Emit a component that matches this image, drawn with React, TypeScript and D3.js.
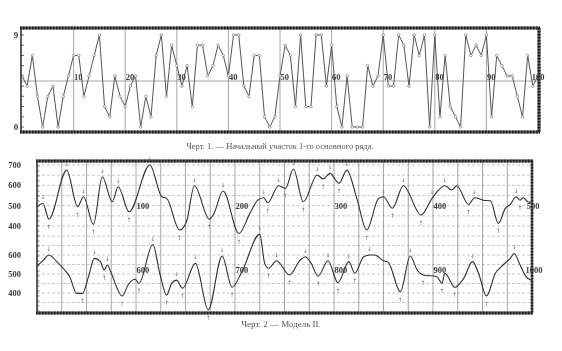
import React from 'react';
import * as d3 from 'd3';

// Chart 1: first 101 terms of the basic series (digits 0..9)
const series1: number[] = [
  5, 4, 7, 3, 0, 3, 4, 0, 3, 5, 7, 7, 3, 5, 7, 9, 2, 1, 5, 3,
  2, 4, 5, 0, 3, 1, 7, 9, 3, 8, 6, 4, 6, 2, 8, 8, 5, 6, 8, 7,
  5, 9, 9, 4, 3, 7, 7, 1, 0, 1, 5, 8, 7, 2, 9, 2, 2, 9, 9, 4,
  8, 2, 0, 5, 0, 0, 0, 6, 4, 5, 9, 4, 4, 9, 8, 4, 9, 7, 9, 0,
  9, 1, 7, 2, 1, 0, 9, 7, 8, 7, 9, 1, 7, 6, 5, 5, 3, 1, 7, 4, 5
];
const xTicks1 = [10, 20, 30, 40, 50, 60, 70, 80, 90, 100];

// Chart 2: Model II, terms 0..500 (upper strip) — [term, value, mark]
// mark: 1 = arrow above a peak, -1 = arrow below a trough
const upper2: [number, number, number][] = [
  [0, 495, 0], [6, 511, 1], [12, 434, -1], [30, 675, 1], [41, 495, -1],
  [47, 544, 1], [57, 408, -1], [66, 642, 1], [76, 519, 0], [82, 593, 1],
  [93, 470, -1], [114, 700, 1], [126, 544, 0], [131, 536, 0], [144, 380, -1],
  [151, 421, 0], [159, 598, 1], [174, 434, -1], [178, 454, 0], [188, 572, 1],
  [204, 363, -1], [215, 462, 0], [223, 527, 0], [229, 539, 1], [233, 514, -1],
  [244, 598, 1], [251, 585, -1], [259, 680, 1], [269, 519, -1], [283, 651, 1],
  [289, 631, -1], [296, 659, 1], [305, 610, -1], [313, 675, 1], [323, 536, 0],
  [333, 380, -1], [345, 536, 0], [350, 544, 1], [359, 487, -1], [370, 598, 1],
  [388, 454, -1], [399, 536, 1], [412, 598, 1], [419, 577, 0], [424, 598, 0],
  [436, 506, -1], [442, 539, 1], [451, 527, 0], [458, 524, 0], [466, 413, -1],
  [473, 487, 0], [478, 506, 0], [484, 544, 1], [488, 527, -1], [491, 539, 0],
  [496, 519, 0], [500, 515, 0]
];

// Chart 2: terms 500..1000 (lower strip)
const lower2: [number, number, number][] = [
  [500, 542, 0], [506, 570, 0], [512, 600, 1], [520, 565, 0], [528, 521, 0],
  [533, 486, 0], [540, 398, 0], [546, 398, -1], [552, 486, 0], [558, 582, 1],
  [564, 565, 0], [568, 521, -1], [571, 547, 1], [575, 504, 0], [586, 384, -1],
  [592, 442, 0], [599, 472, 0], [603, 451, -1], [617, 655, 1], [624, 504, 0],
  [631, 389, -1], [636, 451, 0], [641, 468, 1], [647, 425, -1], [660, 556, 1],
  [673, 311, -1], [687, 595, 1], [697, 430, -1], [707, 512, 0], [725, 710, 1],
  [730, 556, 0], [734, 530, -1], [742, 570, 1], [755, 495, -1], [766, 574, 0],
  [771, 591, 1], [776, 565, 0], [784, 489, -1], [794, 570, 1], [804, 454, -1],
  [815, 565, 1], [821, 504, -1], [830, 591, 0], [836, 600, 1], [841, 600, 0],
  [850, 570, 0], [855, 560, 0], [867, 407, -1], [877, 595, 1], [884, 521, 0],
  [890, 495, -1], [904, 486, 0], [909, 451, -1], [912, 504, 0], [922, 430, -1],
  [931, 477, 0], [940, 565, 1], [946, 504, 0], [954, 384, -1], [963, 504, 0],
  [969, 539, 0], [978, 582, 0], [982, 608, 1], [988, 547, 0], [994, 486, 0],
  [1000, 465, 0]
];
const upperLabels = [100, 200, 300, 400, 500];
const lowerLabels = [600, 700, 800, 900, 1000];
const yTicksUpper = [700, 600, 500, 400];
const yTicksLower = [600, 500, 400];

const caption1 = 'Черт. 1. — Начальный участок 1-го основного ряда.';
const caption2 = 'Черт. 2 — Модель II.';

const ink = '#3a3a3a';
const grid = '#8f8f8f';
const serif = '"Liberation Serif", "DejaVu Serif", serif';

const Border: React.FC<{ x1: number; y1: number; x2: number; y2: number; w?: number }> = ({ x1, y1, x2, y2, w = 3 }) => (
  <g>
    <line x1={x1} y1={y1} x2={x2} y2={y2} stroke="#555" strokeWidth={w} />
    <line x1={x1} y1={y1} x2={x2} y2={y2} stroke="#222" strokeWidth={w} strokeDasharray="1.5 1.5" />
  </g>
);

const App: React.FC = () => {
  // ---- chart 1 ----
  const f1 = { left: 21, right: 539, top: 28, bottom: 132 };
  const x1 = d3.scaleLinear().domain([0, 100]).range([22, 538]);
  const y1 = d3.scaleLinear().domain([0, 9]).range([127, 35]);
  const line1 = d3.line<number>().x((_, i) => x1(i)).y(d => y1(d));
  const mid1 = y1(4.5);

  // ---- chart 2 ----
  const f2 = { left: 37, right: 532, top: 161, bottom: 313 };
  const xU = d3.scaleLinear().domain([0, 500]).range([37, 532]);
  const xL = d3.scaleLinear().domain([500, 1000]).range([37, 532]);
  const yU = d3.scaleLinear().domain([400, 700]).range([226, 165]);
  const yL = d3.scaleLinear().domain([400, 600]).range([293, 255]);
  const lineU = d3.line<[number, number, number]>().x(d => xU(d[0])).y(d => yU(d[1])).curve(d3.curveMonotoneX);
  const lineL = d3.line<[number, number, number]>().x(d => xL(d[0])).y(d => yL(d[1])).curve(d3.curveMonotoneX);

  const hLines: number[] = [
    ...d3.range(350, 701, 50).map(v => yU(v)),
    ...d3.range(300, 651, 50).map(v => yL(v))
  ].filter(y => y > f2.top + 2 && y < f2.bottom - 2);
  const vLines = d3.range(25, 500, 25).map(v => xU(v));

  const arrows = (data: [number, number, number][], xs: d3.ScaleLinear<number, number>, ys: d3.ScaleLinear<number, number>) =>
    data.filter(d => d[2] !== 0).map((d, i) => (
      <text key={i} x={xs(d[0])} y={d[2] > 0 ? ys(d[1]) - 4 : ys(d[1]) + 10}
        fontSize={6} textAnchor="middle" fill="#777" fontFamily='"DejaVu Sans", sans-serif'>
        {d[2] > 0 ? '↓' : '↑'}
      </text>
    ));

  return (
    <svg width={562} height={351} style={{ position: 'absolute', left: 0, top: 0, background: '#fff', filter: 'grayscale(1)' }}>
      {/* Chart 1 */}
      <g>
        {xTicks1.slice(0, -1).map(t => (
          <line key={t} x1={x1(t)} x2={x1(t)} y1={f1.top} y2={f1.bottom} stroke={grid} strokeWidth={0.8} />
        ))}
        <line x1={f1.left} x2={f1.right} y1={mid1} y2={mid1} stroke={grid} strokeWidth={0.8} />
        {d3.range(0, 10).map(v => (
          <line key={v} x1={f1.left} x2={f1.left + 3} y1={y1(v)} y2={y1(v)} stroke="#444" strokeWidth={0.8} />
        ))}
        <path d={line1(series1) || ''} fill="none" stroke="#555" strokeWidth={1} />
        {series1.map((v, i) => (
          <circle key={i} cx={x1(i)} cy={y1(v)} r={1.3} fill="#fff" stroke="#666" strokeWidth={0.6} />
        ))}
        {xTicks1.map(t => (
          <text key={t} x={t === 100 ? x1(t) : x1(t) + 0.5} y={mid1 - 1.5} fontSize={8.5}
            textAnchor={t === 100 ? 'middle' : 'start'} fill={ink} fontFamily={serif} fontWeight="bold">{t}</text>
        ))}
        <Border x1={f1.left - 1} y1={f1.top} x2={f1.right + 1} y2={f1.top} />
        <Border x1={f1.left - 1} y1={f1.bottom} x2={f1.right + 1} y2={f1.bottom} />
        <line x1={f1.left} x2={f1.left} y1={f1.top} y2={f1.bottom} stroke="#333" strokeWidth={1.6} />
        <Border x1={f1.right} y1={f1.top} x2={f1.right} y2={f1.bottom} w={3} />
        <text x={16} y={y1(9) + 3} fontSize={9} textAnchor="middle" fill={ink} fontFamily={serif} fontWeight="bold">9</text>
        <text x={16} y={y1(0) + 3} fontSize={9} textAnchor="middle" fill={ink} fontFamily={serif} fontWeight="bold">0</text>
        <text x={280} y={149} fontSize={8.5} textAnchor="middle" fill="#555" fontFamily={serif}>{caption1}</text>
      </g>

      {/* Chart 2 */}
      <g>
        {hLines.map((y, i) => (
          <line key={i} x1={f2.left} x2={f2.right} y1={y} y2={y} stroke="#a5a5a5" strokeWidth={0.6} strokeDasharray="3 2" />
        ))}
        {vLines.map((x, i) => (
          <line key={i} x1={x} x2={x} y1={f2.top} y2={f2.bottom} stroke={grid} strokeWidth={0.8} />
        ))}
        {d3.range(f2.top + 5, f2.bottom, 5).map((y, i) => (
          <line key={i} x1={f2.left} x2={f2.left + 2.5} y1={y} y2={y} stroke="#444" strokeWidth={0.7} />
        ))}
        <path d={lineU(upper2) || ''} fill="none" stroke="#2e2e2e" strokeWidth={1.1} />
        <path d={lineL(lower2) || ''} fill="none" stroke="#2e2e2e" strokeWidth={1.1} />
        {arrows(upper2, xU, yU)}
        {arrows(lower2, xL, yL)}
        {upperLabels.map(t => (
          <text key={t} x={t === 500 ? xU(t) + 1 : xU(t) + 0.5} y={yU(500) + 3} fontSize={8.5}
            textAnchor={t === 500 ? 'middle' : 'start'} fill={ink} fontFamily={serif} fontWeight="bold">{t}</text>
        ))}
        {lowerLabels.map(t => (
          <text key={t} x={t === 1000 ? xL(t) + 2 : xL(t) + 0.5} y={yL(500) - 1} fontSize={8.5}
            textAnchor={t === 1000 ? 'middle' : 'start'} fill={ink} fontFamily={serif} fontWeight="bold">{t}</text>
        ))}
        {yTicksUpper.map(t => (
          <text key={t} x={21} y={yU(t) + 3} fontSize={8.5} textAnchor="end" fill={ink} fontFamily={serif} fontWeight="bold">{t}</text>
        ))}
        {yTicksLower.map(t => (
          <text key={t} x={21} y={yL(t) + 3} fontSize={8.5} textAnchor="end" fill={ink} fontFamily={serif} fontWeight="bold">{t}</text>
        ))}
        <text x={281} y={327} fontSize={9} textAnchor="middle" fill="#555" fontFamily={serif}>{caption2}</text>
        <Border x1={f2.left - 1} y1={f2.top} x2={f2.right + 1} y2={f2.top} />
        <Border x1={f2.left - 1} y1={f2.bottom} x2={f2.right + 1} y2={f2.bottom} />
        <line x1={f2.left} x2={f2.left} y1={f2.top} y2={f2.bottom} stroke="#333" strokeWidth={1.6} />
        <Border x1={f2.right} y1={f2.top} x2={f2.right} y2={f2.bottom} w={2.5} />
      </g>
    </svg>
  );
};

export default App;
